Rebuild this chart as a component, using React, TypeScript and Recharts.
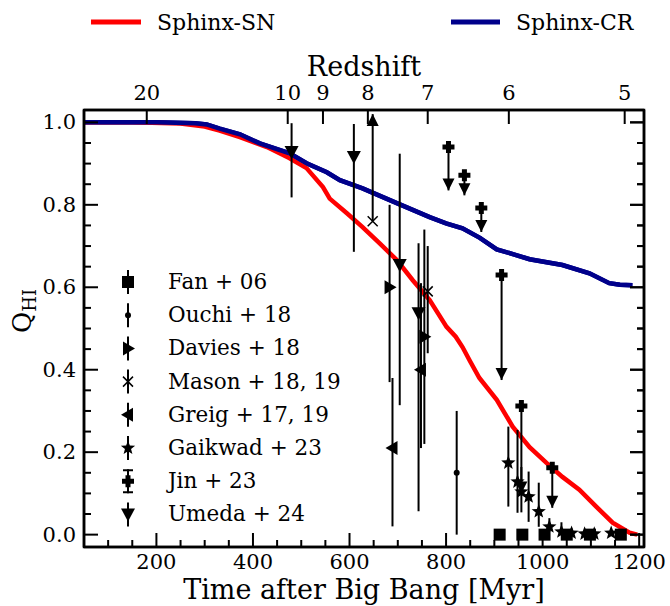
import React from "react";
import { ComposedChart, Line, Scatter, XAxis, YAxis, ErrorBar } from "recharts";

const FONT = "'DejaVu Serif', serif";
const K = "#000";

// axis ticks
const timeTicks = [100, 150, 200, 250, 300, 350, 400, 450, 500, 550, 600, 650, 700, 750, 800, 850, 900, 950, 1000, 1050, 1100, 1150, 1200];
const qTicks = [0, 0.05, 0.1, 0.15, 0.2, 0.25, 0.3, 0.35, 0.4, 0.45, 0.5, 0.55, 0.6, 0.65, 0.7, 0.75, 0.8, 0.85, 0.9, 0.95, 1.0];
const zTickTimes = [180, 472, 545, 638, 762, 930, 1170];
const zTickLabels = ["20", "10", "9", "8", "7", "6", "5"];
const tRange = [50, 1210];
const qRange = [-0.03, 1.03];

// plot box (follows from the axis sizes below)
const PLOT = { left: 84, top: 110, width: 560, height: 437 };

// Sphinx runs
const snTime = [50, 150, 250, 300, 331, 373, 429, 476, 511, 545, 559, 594, 627, 662, 698, 731, 766, 801, 820, 834, 850, 869, 905, 938, 973, 1008, 1041, 1076, 1111, 1145, 1180, 1196];
const snQ = [1.0, 1.0, 0.997, 0.99, 0.98, 0.964, 0.94, 0.913, 0.889, 0.843, 0.815, 0.78, 0.746, 0.707, 0.666, 0.617, 0.569, 0.504, 0.48, 0.455, 0.42, 0.38, 0.327, 0.262, 0.212, 0.174, 0.14, 0.109, 0.068, 0.029, 0.005, 0.0];
const crTime = [50, 200, 280, 304, 331, 373, 414, 476, 511, 553, 580, 627, 698, 766, 800, 834, 870, 905, 940, 973, 1041, 1097, 1138, 1160, 1186];
const crQ = [1.0, 1.0, 0.998, 0.995, 0.985, 0.971, 0.949, 0.925, 0.901, 0.879, 0.86, 0.84, 0.804, 0.77, 0.755, 0.743, 0.72, 0.692, 0.68, 0.668, 0.654, 0.634, 0.61, 0.606, 0.605];

// observations: time [Myr], Q_HI, lower / upper error
const fanT = [911, 958, 1004, 1050, 1098, 1162];
const fanQ = [0.0, 0.0, 0.0, 0.0, 0.0, 0.0];

const ouchiT = [822];
const ouchiQ = [0.15];
const ouchiLo = [0.15];
const ouchiHi = [0.15];

const daviesT = [683, 755];
const daviesQ = [0.6, 0.48];
const daviesLo = [0.23, 0.26];
const daviesHi = [0.2, 0.26];

const masonT = [648, 762];
const masonQ = [0.76, 0.59];
const masonLo = [0, 0.15];
const masonHi = [0.26, 0.11];
const masonLimT = [648];
const masonLimQ = [1.02];

const greigT = [689, 748];
const greigQ = [0.21, 0.4];
const greigLo = [0.19, 0.19];
const greigHi = [0.17, 0.21];

const gaikT = [929, 948, 956, 971, 992, 1014, 1039, 1060, 1087, 1107, 1142];
const gaikQ = [0.174, 0.128, 0.104, 0.092, 0.056, 0.019, 0.007, 0.004, 0.002, 0.002, 0.004];
const gaikLo = [0.106, 0.075, 0.05, 0.061, 0.037, 0.012, 0.007, 0.004, 0.002, 0.002, 0.004];
const gaikHi = [0.088, 0.126, 0.06, 0.061, 0.07, 0.021, 0.023, 0.01, 0.008, 0.008, 0.01];

const jinT = [805, 838, 873, 915, 956, 1020];
const jinQ = [0.94, 0.872, 0.792, 0.63, 0.312, 0.162];
const jinLen = [0.105, 0.049, 0.058, 0.255, 0.212, 0.097];

const umedaT = [480, 609, 704, 743];
const umedaQ = [0.928, 0.916, 0.654, 0.537];
const umedaLo = [0.11, 0.23, 0.34, 0.48];
const umedaHi = [0.07, 0.08, 0.27, 0.17];

const obsNames = ["Fan + 06", "Ouchi + 18", "Davies + 18", "Mason + 18, 19", "Greig + 17, 19", "Gaikwad + 23", "Jin + 23", "Umeda + 24"];
const obsKeys = ["fan", "ouchi", "davies", "mason", "greig", "gaikwad", "jin", "umeda"];

const pts = (t: number[], q: number[], lo?: number[], hi?: number[]) =>
  t.map((v, i) => ({ t: v, q: q[i], err: [lo ? lo[i] : 0, hi ? hi[i] : 0] }));

const snData = pts(snTime, snQ);
const crData = pts(crTime, crQ);
const jinData = pts(jinT, jinQ, jinLen, jinT.map(() => 0));
const jinTips = jinT.map((v, i) => ({ t: v, q: jinQ[i] - jinLen[i] }));

function star(cx: number, cy: number) {
  const p: string[] = [];
  for (let i = 0; i < 10; i++) {
    const a = -Math.PI / 2 + (i * Math.PI) / 5;
    const r = i % 2 === 0 ? 7.5 : 3.2;
    p.push(`${cx + r * Math.cos(a)},${cy + r * Math.sin(a)}`);
  }
  return <polygon points={p.join(" ")} fill={K} />;
}

const markers: Record<string, (cx: number, cy: number) => React.ReactElement> = {
  fan: (cx, cy) => <rect x={cx - 6} y={cy - 6} width={12} height={12} fill={K} />,
  ouchi: (cx, cy) => <circle cx={cx} cy={cy} r={3} fill={K} />,
  davies: (cx, cy) => <polygon points={`${cx - 5},${cy - 7} ${cx - 5},${cy + 7} ${cx + 7},${cy}`} fill={K} />,
  mason: (cx, cy) => (
    <path d={`M${cx - 5},${cy - 5}L${cx + 5},${cy + 5}M${cx - 5},${cy + 5}L${cx + 5},${cy - 5}`} stroke={K} strokeWidth={1.5} />
  ),
  greig: (cx, cy) => <polygon points={`${cx + 5},${cy - 7} ${cx + 5},${cy + 7} ${cx - 7},${cy}`} fill={K} />,
  gaikwad: (cx, cy) => star(cx, cy),
  jin: (cx, cy) => (
    <path
      d={`M${cx - 2.5},${cy - 6}H${cx + 2.5}V${cy - 2.5}H${cx + 6}V${cy + 2.5}H${cx + 2.5}V${cy + 6}H${cx - 2.5}V${cy + 2.5}H${cx - 6}V${cy - 2.5}H${cx - 2.5}Z`}
      fill={K}
    />
  ),
  umeda: (cx, cy) => <polygon points={`${cx - 7},${cy - 6} ${cx + 7},${cy - 6} ${cx},${cy + 7}`} fill={K} />,
  down: (cx, cy) => <polygon points={`${cx - 6},${cy - 12} ${cx + 6},${cy - 12} ${cx},${cy}`} fill={K} />,
  up: (cx, cy) => <polygon points={`${cx - 6},${cy + 12} ${cx + 6},${cy + 12} ${cx},${cy}`} fill={K} />,
};

const shapeOf = (k: string) => (p: any) =>
  p.cx == null || p.cy == null ? <g /> : <g>{markers[k](p.cx, p.cy)}</g>;

const isMajorQ = (v: number) => Math.abs(v * 5 - Math.round(v * 5)) < 1e-6;

const BottomTick = (p: any) => {
  const major = p.payload.value % 200 === 0;
  return (
    <g>
      <line x1={p.x} x2={p.x} y1={p.y} y2={p.y - (major ? 14 : 7)} stroke={K} strokeWidth={2} />
      {major && (
        <text x={p.x} y={p.y + 22} textAnchor="middle" fontSize={21} fontFamily={FONT} fill={K}>
          {p.payload.value}
        </text>
      )}
    </g>
  );
};

const TopTick = (p: any) => {
  const i = zTickTimes.indexOf(p.payload.value);
  return (
    <g>
      <line x1={p.x} x2={p.x} y1={p.y} y2={p.y + 14} stroke={K} strokeWidth={2} />
      <text x={p.x} y={p.y - 10} textAnchor="middle" fontSize={21} fontFamily={FONT} fill={K}>
        {zTickLabels[i]}
      </text>
    </g>
  );
};

const LeftTick = (p: any) => {
  const major = isMajorQ(p.payload.value);
  return (
    <g>
      <line x1={p.x} x2={p.x + (major ? 14 : 7)} y1={p.y} y2={p.y} stroke={K} strokeWidth={2} />
      {major && (
        <text x={p.x - 8} y={p.y + 7} textAnchor="end" fontSize={21} fontFamily={FONT} fill={K}>
          {p.payload.value.toFixed(1)}
        </text>
      )}
    </g>
  );
};

const RightTick = (p: any) => {
  const major = isMajorQ(p.payload.value);
  return (
    <g>
      <line x1={p.x} x2={p.x - (major ? 14 : 7)} y1={p.y} y2={p.y} stroke={K} strokeWidth={2} />
    </g>
  );
};

function ObsSeries(key: string, data: any[]) {
  return (
    <Scatter key={key} xAxisId="t" yAxisId="q" data={data} dataKey="q" shape={shapeOf(key)} isAnimationActive={false}>
      <ErrorBar dataKey="err" direction="y" width={0} stroke={K} strokeWidth={2} />
    </Scatter>
  );
}

// y pixel of a Q value inside the plot box, for the frame's right-hand ticks
const qToY = (q: number) => PLOT.top + ((qRange[1] - q) / (qRange[1] - qRange[0])) * PLOT.height;

export default function App() {
  const right = PLOT.left + PLOT.width;
  return (
    <div style={{ position: "absolute", left: 0, top: 0, width: 670, height: 606, background: "#fff", fontFamily: FONT }}>
      {/* legends and y label */}
      <svg width={670} height={606} style={{ position: "absolute", left: 0, top: 0 }}>
        <line x1={91} x2={141} y1={22} y2={22} stroke="#ff0000" strokeWidth={5} />
        <text x={157} y={30} fontSize={22} fontFamily={FONT} fill={K}>Sphinx-SN</text>
        <line x1={451} x2={500} y1={22} y2={22} stroke="#00008b" strokeWidth={5} />
        <text x={516} y={30} fontSize={22} fontFamily={FONT} fill={K}>Sphinx-CR</text>

        <text x={31} y={311} transform="rotate(-90 31 311)" textAnchor="middle" fontSize={26} fontFamily={FONT} fill={K}>
          Q<tspan fontSize={18} dy={5}>HI</tspan>
        </text>

        {obsNames.map((name, i) => {
          const cy = 282 + i * 33.2;
          const k = obsKeys[i];
          return (
            <g key={name}>
              <line x1={128} x2={128} y1={cy - 12} y2={cy + 12} stroke={K} strokeWidth={2} />
              {k === "jin" && <path d={`M123,${cy - 11}H133M123,${cy + 11}H133`} stroke={K} strokeWidth={2} />}
              {markers[k](128, cy)}
              <text x={168} y={cy + 7} fontSize={21.5} fontFamily={FONT} fill={K}>
                {name}
              </text>
            </g>
          );
        })}
      </svg>

      <div style={{ position: "absolute", left: 0, top: 0 }}>
        <ComposedChart width={670} height={606} margin={{ top: 0, right: 0, bottom: 0, left: 0 }}>
          <XAxis
            xAxisId="t"
            dataKey="t"
            type="number"
            domain={tRange}
            allowDataOverflow
            ticks={timeTicks}
            interval={0}
            tickSize={0}
            tickMargin={0}
            tickLine={false}
            tick={BottomTick}
            height={59}
            axisLine={{ stroke: K, strokeWidth: 2.5 }}
            label={{ value: "Time after Big Bang [Myr]", position: "insideBottom", offset: 7, fontSize: 27, fontFamily: FONT, fill: K }}
          />
          <XAxis
            xAxisId="z"
            dataKey="t"
            orientation="top"
            type="number"
            domain={tRange}
            allowDataOverflow
            ticks={zTickTimes}
            interval={0}
            tickSize={0}
            tickMargin={0}
            tickLine={false}
            tick={TopTick}
            height={110}
            axisLine={{ stroke: K, strokeWidth: 2.5 }}
            label={{ value: "Redshift", position: "insideTop", offset: 57, fontSize: 27, fontFamily: FONT, fill: K }}
          />
          <YAxis
            yAxisId="q"
            dataKey="q"
            type="number"
            domain={qRange}
            allowDataOverflow
            ticks={qTicks}
            interval={0}
            tickSize={0}
            tickMargin={0}
            tickLine={false}
            tick={LeftTick}
            width={84}
            axisLine={{ stroke: K, strokeWidth: 2.5 }}
          />
          <YAxis
            yAxisId="r"
            dataKey="q"
            orientation="right"
            type="number"
            domain={qRange}
            allowDataOverflow
            ticks={qTicks}
            interval={0}
            tickSize={0}
            tickMargin={0}
            tickLine={false}
            tick={RightTick}
            width={26}
            axisLine={{ stroke: K, strokeWidth: 2.5 }}
          />

          {/* CR curve also bound to the top/right axes so they get drawn; covered by the visible CR line */}
          <Line xAxisId="z" yAxisId="r" data={crData} dataKey="q" stroke="#00008b" strokeWidth={4.5} dot={false} activeDot={false} isAnimationActive={false} />

          <Line xAxisId="t" yAxisId="q" data={snData} dataKey="q" type="linear" stroke="#ff0000" strokeWidth={4.5} dot={false} isAnimationActive={false} />
          <Line xAxisId="t" yAxisId="q" data={crData} dataKey="q" type="linear" stroke="#00008b" strokeWidth={4.5} dot={false} isAnimationActive={false} />

          {ObsSeries("fan", pts(fanT, fanQ))}
          {ObsSeries("ouchi", pts(ouchiT, ouchiQ, ouchiLo, ouchiHi))}
          {ObsSeries("davies", pts(daviesT, daviesQ, daviesLo, daviesHi))}
          {ObsSeries("mason", pts(masonT, masonQ, masonLo, masonHi))}
          {ObsSeries("greig", pts(greigT, greigQ, greigLo, greigHi))}
          {ObsSeries("gaikwad", pts(gaikT, gaikQ, gaikLo, gaikHi))}
          {ObsSeries("jin", jinData)}
          {ObsSeries("umeda", pts(umedaT, umedaQ, umedaLo, umedaHi))}
          <Scatter xAxisId="t" yAxisId="q" data={jinTips} dataKey="q" shape={shapeOf("down")} isAnimationActive={false} />
          <Scatter xAxisId="t" yAxisId="q" data={pts(masonLimT, masonLimQ)} dataKey="q" shape={shapeOf("up")} isAnimationActive={false} />
        </ComposedChart>
      </div>

      {/* plot frame and right-hand ticks drawn on top */}
      <svg width={670} height={606} style={{ position: "absolute", left: 0, top: 0, pointerEvents: "none" }}>
        <rect x={PLOT.left} y={PLOT.top} width={PLOT.width} height={PLOT.height} fill="none" stroke={K} strokeWidth={2.5} />
        {qTicks.map((q) => (
          <line key={q} x1={right} x2={right - (isMajorQ(q) ? 14 : 7)} y1={qToY(q)} y2={qToY(q)} stroke={K} strokeWidth={2} />
        ))}
      </svg>
    </div>
  );
}
